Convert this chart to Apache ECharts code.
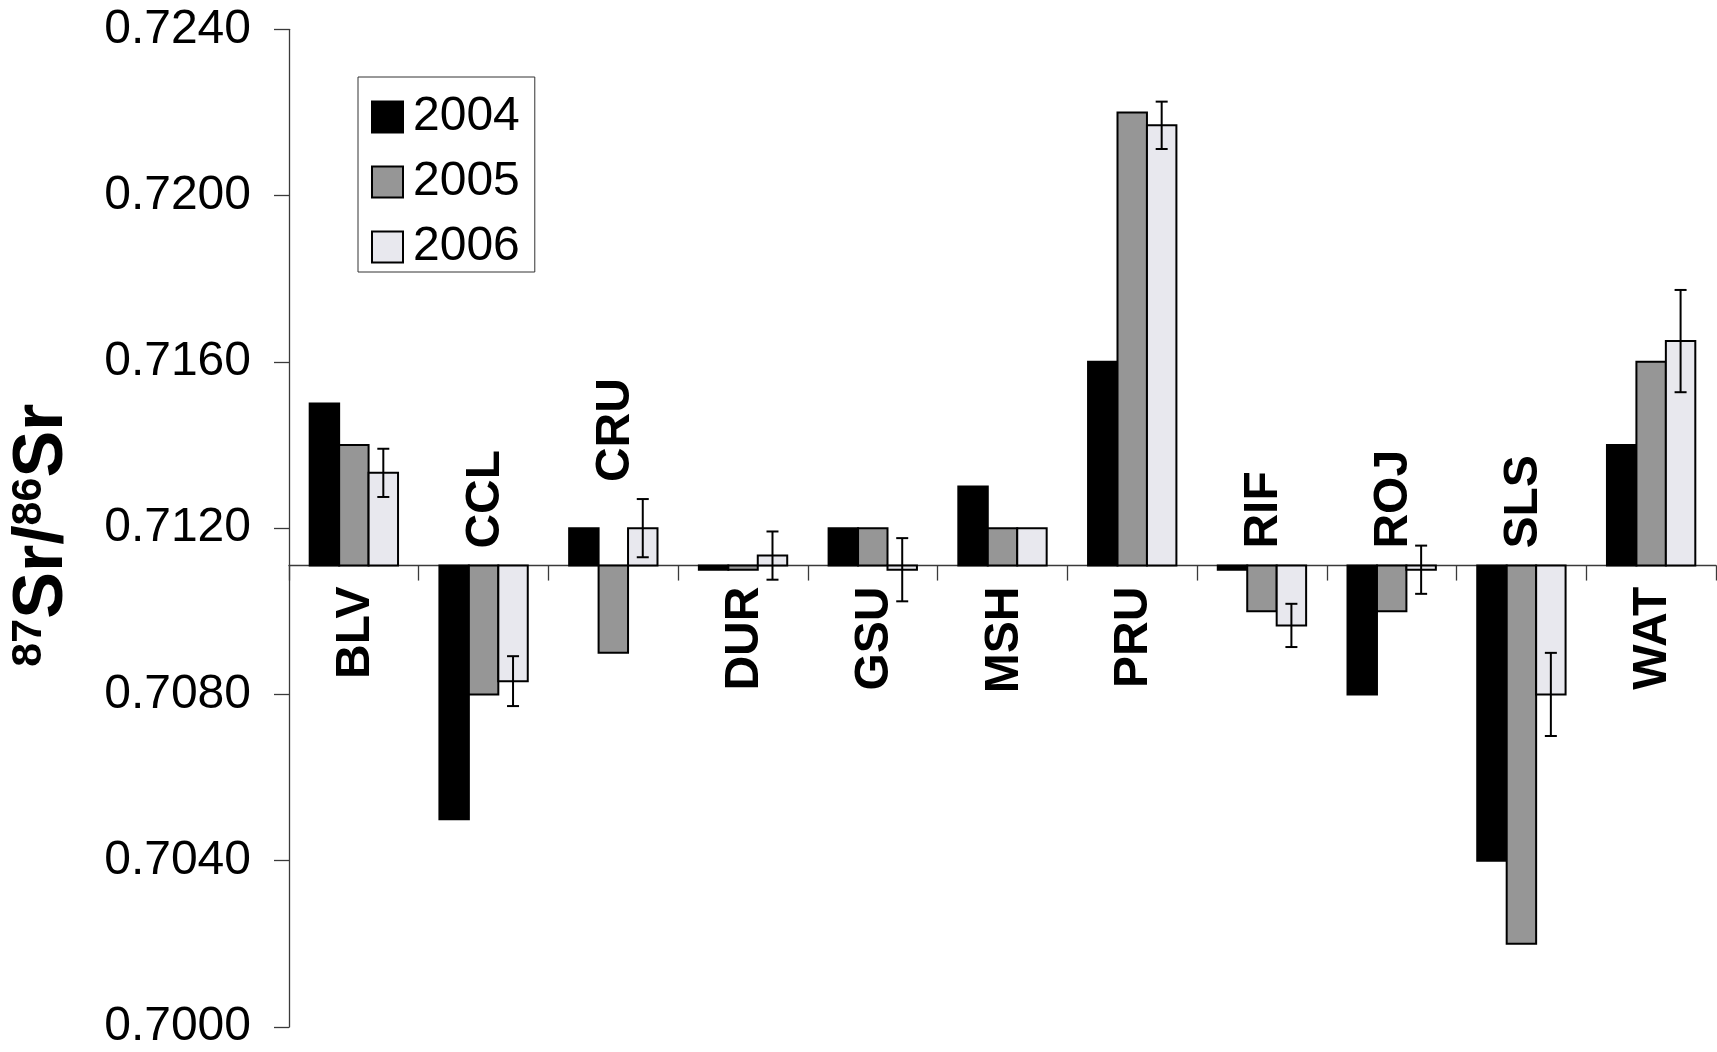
<!DOCTYPE html>
<html>
<head>
<meta charset="utf-8">
<script src="https://cdn.jsdelivr.net/npm/echarts@6/dist/echarts.min.js"></script>
<style>
  html, body { margin: 0; padding: 0; background: #ffffff; }
  #chart { width: 1717px; height: 1052px; }
</style>
</head>
<body>
<div id="chart"></div>
<script>
// Sampling sites
const categories = ['BLV', 'CCL', 'CRU', 'DUR', 'GSU', 'MSH', 'PRU', 'RIF', 'ROJ', 'SLS', 'WAT'];
const years = ['2004', '2005', '2006'];

// 87Sr/86Sr per site and year
const sr2004 = [0.7150, 0.7050, 0.7120, 0.7110, 0.7120, 0.7130, 0.7160, 0.7110, 0.7080, 0.7040, 0.7140];
const sr2005 = [0.7140, 0.7080, 0.7090, 0.7110, 0.7120, 0.7120, 0.7220, 0.7100, 0.7100, 0.7020, 0.7160];
const sr2006 = [0.71333, 0.70832, 0.7120, 0.71134, 0.7110, 0.7120, 0.72169, 0.70966, 0.7110, 0.7080, 0.7165];
// +/- uncertainty of the 2006 values
const err2006 = [0.00058, 0.0006, 0.0007, 0.00058, 0.00076, 0, 0.00057, 0.00052, 0.00058, 0.0010, 0.00123];

// Value axis
const AXIS_MIN = 0.7000;
const AXIS_MAX = 0.7240;
const AXIS_STEP = 0.0040;
// Reference ratio the bars grow from
const BASE = 0.7111;

const FONT = "'Liberation Sans', Arial, Helvetica, sans-serif";
const fills = ['#000000', '#969696', '#e8e8ee'];
const INK = '#000000';
const AXIS_INK = '#3a3a3a';
const BAR_FRACTION = 0.227;   // share of a category band taken by one bar

const seriesValues = [sr2004, sr2005, sr2006];
const seriesErrors = [null, null, err2006];

function barRenderer(slot) {
  return function (params, api) {
    const cat = api.value(0);
    const val = api.value(1);
    const err = api.value(2);
    const band = api.size([1, 0])[0];
    const bw = band * BAR_FRACTION;
    const p = api.coord([cat, val]);
    const b = api.coord([cat, BASE]);
    const cx = p[0] + (slot - 1) * bw;
    const top = Math.min(p[1], b[1]);
    const h = Math.abs(p[1] - b[1]);
    const children = [{
      type: 'rect',
      shape: { x: cx - bw / 2, y: top, width: bw, height: h },
      style: { fill: fills[slot], stroke: INK, lineWidth: 2 }
    }];
    if (err > 0) {
      const hi = api.coord([cat, val + err])[1];
      const lo = api.coord([cat, val - err])[1];
      const cap = 6;
      const es = { stroke: INK, lineWidth: 2 };
      children.push(
        { type: 'line', shape: { x1: cx, y1: hi, x2: cx, y2: lo }, style: es },
        { type: 'line', shape: { x1: cx - cap, y1: hi, x2: cx + cap, y2: hi }, style: es },
        { type: 'line', shape: { x1: cx - cap, y1: lo, x2: cx + cap, y2: lo }, style: es }
      );
    }
    return { type: 'group', children: children, z2: slot };
  };
}

// Site names sit on the side of the reference line away from the bars
function siteLabelData() {
  return categories.map(function (name, i) {
    let net = 0;
    let reach = BASE;
    seriesValues.forEach(function (vals, s) {
      const v = vals[i];
      net += v - BASE;
      if (v > BASE) {
        const e = seriesErrors[s] ? seriesErrors[s][i] : 0;
        reach = Math.max(reach, v + e);
      }
    });
    const below = net > 0;
    return [i, below ? BASE : reach, below ? 1 : 0];
  });
}

const chart = echarts.init(document.getElementById('chart'), null, { renderer: 'canvas' });

const series = years.map(function (y, s) {
  return {
    name: y,
    type: 'custom',
    coordinateSystem: 'cartesian2d',
    renderItem: barRenderer(s),
    itemStyle: { color: fills[s], borderColor: INK, borderWidth: 2 },
    encode: { x: 0, y: 1 },
    data: seriesValues[s].map(function (v, i) {
      return [i, v, seriesErrors[s] ? seriesErrors[s][i] : 0];
    }),
    z: 2
  };
});

series.push({
  name: 'sites',
  type: 'custom',
  coordinateSystem: 'cartesian2d',
  silent: true,
  encode: { x: 0, y: 1 },
  data: siteLabelData(),
  z: 3,
  renderItem: function (params, api) {
    const i = api.value(0);
    const p = api.coord([i, api.value(1)]);
    const below = api.value(2) === 1;
    return {
      type: 'text',
      x: p[0] + 2,
      y: below ? p[1] + 21 : p[1] - 17,
      rotation: Math.PI / 2,
      style: {
        text: categories[i],
        fill: INK,
        font: 'bold 48px ' + FONT,
        align: below ? 'right' : 'left',
        verticalAlign: 'middle'
      }
    };
  }
});

const option = {
  animation: false,
  backgroundColor: '#ffffff',
  grid: { left: 289, right: 1, top: 29.3, bottom: 25, outerBoundsMode: 'none' },
  legend: {
    orient: 'vertical',
    left: 358,
    top: 77,
    padding: [16, 15, 1, 13],
    itemWidth: 31,
    itemHeight: 31,
    itemGap: 17,
    icon: 'rect',
    borderColor: '#333333',
    borderWidth: 1,
    backgroundColor: '#ffffff',
    data: years,
    textStyle: { fontSize: 48, fontFamily: FONT, color: INK, padding: [0, 0, 0, 5] }
  },
  xAxis: {
    type: 'category',
    data: categories,
    boundaryGap: true,
    axisLine: { show: true, onZero: false, lineStyle: { color: AXIS_INK, width: 1.3 } },
    axisTick: { show: true, length: 15, interval: 0, lineStyle: { color: AXIS_INK, width: 1.3 } },
    axisLabel: { show: false },
    splitLine: { show: false }
  },
  yAxis: {
    type: 'value',
    min: AXIS_MIN,
    max: AXIS_MAX,
    interval: AXIS_STEP,
    axisLine: { show: true, onZero: false, lineStyle: { color: AXIS_INK, width: 1.3 } },
    axisTick: { show: true, length: 15, lineStyle: { color: AXIS_INK, width: 1.3 } },
    splitLine: { show: false },
    axisLabel: {
      margin: 38,
      fontSize: 48,
      fontFamily: FONT,
      color: INK,
      formatter: function (v) { return v.toFixed(4); }
    },
    name: '{sup|87}{main|Sr/}{sup|86}{main|Sr}',
    nameLocation: 'middle',
    nameRotate: 90,
    nameGap: 211,
    nameTextStyle: {
      padding: [0, 14, 0, 0],
      rich: {
        sup: { fontSize: 43, fontWeight: 'bold', fontFamily: FONT, color: INK, verticalAlign: 'top', lineHeight: 70 },
        main: { fontSize: 70, fontWeight: 'bold', fontFamily: FONT, color: INK, verticalAlign: 'bottom', lineHeight: 70 }
      }
    }
  },
  series: series
};

chart.setOption(option);

// Let the category axis run along the reference line instead of the grid bottom
const yBase = chart.convertToPixel({ yAxisIndex: 0 }, BASE);
const yBottom = chart.convertToPixel({ yAxisIndex: 0 }, AXIS_MIN);
chart.setOption({ xAxis: { offset: yBase - yBottom } });
</script>
</body>
</html>
